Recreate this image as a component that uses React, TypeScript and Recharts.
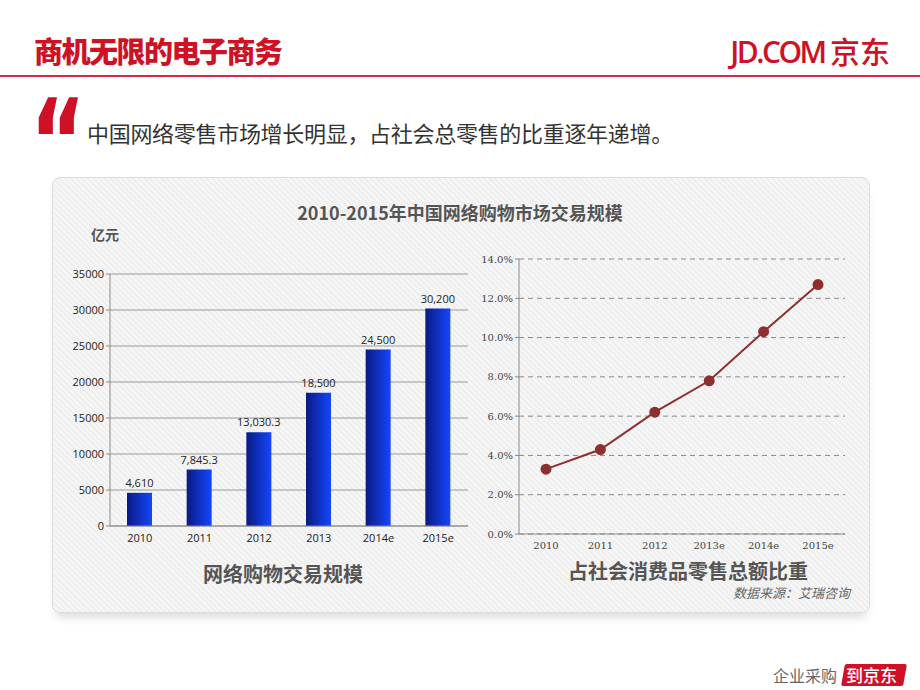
import { BarChart, Bar, LineChart, Line, XAxis, YAxis, CartesianGrid, LabelList } from 'recharts';

const years = ['2010', '2011', '2012', '2013', '2014e', '2015e'];
const lineYears = ['2010', '2011', '2012', '2013e', '2014e', '2015e'];
const tradeVolume = [4610, 7845.3, 13030.3, 18500, 24500, 30200];
const retailShare = [3.3, 4.3, 6.2, 7.8, 10.3, 12.7];
const volumeTicks = [0, 5000, 10000, 15000, 20000, 25000, 30000, 35000];
const shareTicks = [0, 2, 4, 6, 8, 10, 12, 14];

const barData = years.map((year, i) => ({ year, value: tradeVolume[i] }));
const lineData = lineYears.map((year, i) => ({ year, value: retailShare[i] }));

const red = '#cf1126';
const cjk = '"Noto Sans CJK SC", "Noto Sans", sans-serif';

const fmtVolume = (v: number) =>
  new Intl.NumberFormat('en-US', { maximumFractionDigits: 1 }).format(v);

export default function App() {
  return (
    <div
      style={{
        position: 'absolute',
        left: 0,
        top: 0,
        width: 920,
        height: 690,
        background: '#fff',
        overflow: 'hidden',
        fontFamily: cjk,
      }}
    >
      {/* header */}
      <div style={{ position: 'absolute', left: 34, top: 30, fontSize: 29, fontWeight: 900, color: red, letterSpacing: -1.5, lineHeight: '40px' }}>
        商机无限的电子商务
      </div>
      <div style={{ position: 'absolute', right: 30, top: 30, fontSize: 30, fontWeight: 600, color: red, letterSpacing: -2.5, lineHeight: '40px', fontFamily: '"Open Sans", sans-serif' }}>
        JD.COM <span style={{ fontFamily: cjk, letterSpacing: 0, fontWeight: 500 }}>京东</span>
      </div>
      <div style={{ position: 'absolute', left: 0, top: 75, width: 920, height: 2, background: '#d8283a' }} />

      {/* quote */}
      <div style={{ position: 'absolute', left: 30, top: 82, fontSize: 118, fontWeight: 900, color: red, lineHeight: '120px', fontFamily: '"DejaVu Sans", sans-serif', transform: 'scaleX(0.72)', transformOrigin: 'left top' }}>
        “
      </div>
      <div style={{ position: 'absolute', left: 87, top: 117, fontSize: 22, color: '#333', lineHeight: '30px', letterSpacing: -0.3 }}>
        中国网络零售市场增长明显，占社会总零售的比重逐年递增。
      </div>

      {/* panel */}
      <div
        style={{
          position: 'absolute',
          left: 52,
          top: 177,
          width: 816,
          height: 434,
          borderRadius: 8,
          border: '1px solid #dcdcdc',
          background:
            'repeating-linear-gradient(45deg, #f6f6f6 0px, #f6f6f6 2px, #efefef 2px, #efefef 4px)',
          boxShadow: '0 8px 10px -4px rgba(0,0,0,0.15)',
        }}
      />

      <div style={{ position: 'absolute', left: 52, width: 816, top: 198, textAlign: 'center', fontSize: 18, fontWeight: 700, color: '#555', lineHeight: '28px' }}>
        2010-2015年中国网络购物市场交易规模
      </div>
      <div style={{ position: 'absolute', left: 91, top: 223, fontSize: 14, fontWeight: 700, color: '#555', lineHeight: '22px' }}>
        亿元
      </div>

      {/* left: bar chart */}
      <div style={{ position: 'absolute', left: 52, top: 260 }}>
        <BarChart width={420} height={296} data={barData} margin={{ top: 14, right: 4, left: 0, bottom: 0 }}>
          <defs>
            <linearGradient id="barGrad" x1="0" y1="0" x2="1" y2="0">
              <stop offset="0%" stopColor="#0a1a82" />
              <stop offset="100%" stopColor="#1446ff" />
            </linearGradient>
          </defs>
          <CartesianGrid vertical={false} stroke="#9a9a9a" />
          <XAxis
            dataKey="year"
            tickLine={false}
            axisLine={{ stroke: '#8a8a8a' }}
            tick={{ fontSize: 11, fill: '#222', fontFamily: '"Open Sans", sans-serif' }}
            height={30}
          />
          <YAxis
            width={58}
            domain={[0, 35000]}
            ticks={volumeTicks}
            interval={0}
            axisLine={{ stroke: '#8a8a8a' }}
            tickLine={{ stroke: '#8a8a8a' }}
            tickSize={4}
            tick={{ fontSize: 11, fill: '#222', fontFamily: '"Open Sans", sans-serif' }}
          />
          <Bar dataKey="value" fill="url(#barGrad)" barSize={25} isAnimationActive={false}>
            <LabelList
              dataKey="value"
              position="top"
              offset={6}
              formatter={(v: any) => fmtVolume(Number(v))}
              style={{ fontSize: 11, fill: '#222', fontFamily: '"Open Sans", sans-serif' }}
            />
          </Bar>
        </BarChart>
      </div>

      {/* right: line chart */}
      <div style={{ position: 'absolute', left: 469, top: 249 }}>
        <LineChart width={386} height={315} data={lineData} margin={{ top: 10, right: 10, left: 0, bottom: 0 }}>
          <CartesianGrid vertical={false} stroke="#8a8a8a" strokeDasharray="5 4" />
          <XAxis
            dataKey="year"
            tickLine={false}
            padding={{ left: 27, right: 27 }}
            axisLine={{ stroke: '#8a8a8a' }}
            tick={{ fontSize: 10, fill: '#444', fontFamily: '"DejaVu Serif", serif' }}
            height={30}
            interval={0}
          />
          <YAxis
            width={50}
            domain={[0, 14]}
            ticks={shareTicks}
            interval={0}
            axisLine={{ stroke: '#8a8a8a' }}
            tickLine={{ stroke: '#8a8a8a' }}
            tickSize={4}
            tickFormatter={(v: number) => `${v.toFixed(1)}%`}
            tick={{ fontSize: 10, fill: '#444', fontFamily: '"DejaVu Serif", serif' }}
          />
          <Line
            dataKey="value"
            stroke="#8e2f2f"
            strokeWidth={2}
            dot={{ r: 4.5, fill: '#8e2f2f', stroke: '#8e2f2f' }}
            isAnimationActive={false}
          />
        </LineChart>
      </div>

      <div style={{ position: 'absolute', left: 183, width: 200, top: 560, textAlign: 'center', fontSize: 20, fontWeight: 700, color: '#555', lineHeight: '28px' }}>
        网络购物交易规模
      </div>
      <div style={{ position: 'absolute', left: 538, width: 300, top: 557, textAlign: 'center', fontSize: 20, fontWeight: 700, color: '#555', lineHeight: '28px' }}>
        占社会消费品零售总额比重
      </div>
      <div style={{ position: 'absolute', right: 70, top: 583, fontSize: 13, fontStyle: 'italic', color: '#666', lineHeight: '20px' }}>
        数据来源：艾瑞咨询
      </div>

      {/* footer */}
      <div style={{ position: 'absolute', left: 773, top: 663, fontSize: 16, color: '#666', lineHeight: '24px' }}>
        企业采购
      </div>
      <div
        style={{
          position: 'absolute',
          left: 843,
          top: 664,
          width: 62,
          height: 22,
          background: red,
          transform: 'skewX(-10deg)',
          borderRadius: 2,
        }}
      />
      <div style={{ position: 'absolute', left: 846, top: 663, fontSize: 17, color: '#fff', lineHeight: '24px', fontWeight: 500 }}>
        到京东
      </div>
    </div>
  );
}
